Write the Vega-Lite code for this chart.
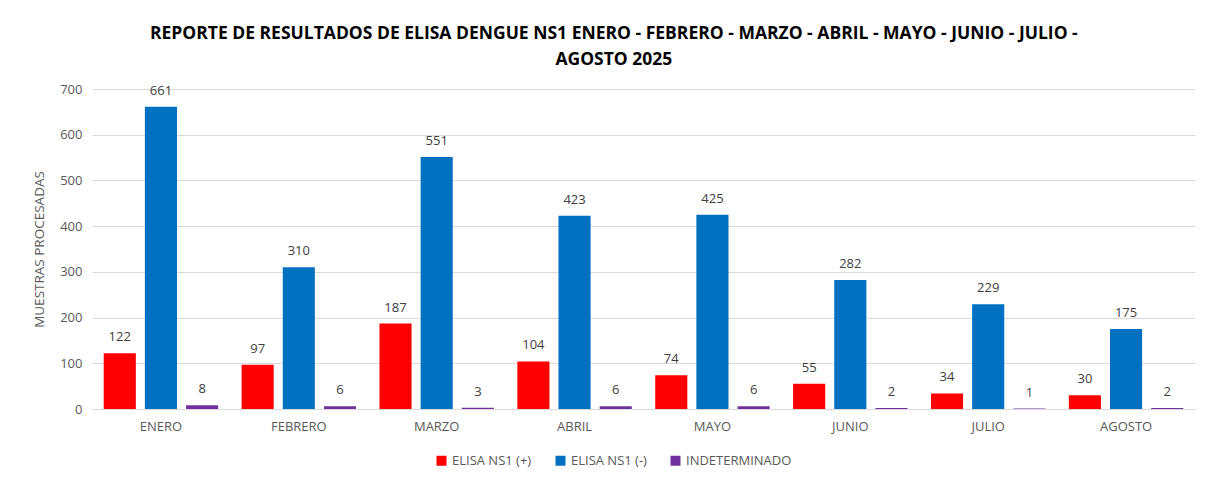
{
  "$schema": "https://vega.github.io/schema/vega-lite/v6.json",
  "width": 1103,
  "height": 320,
  "autosize": {"type": "none"},
  "padding": {"left": 92, "top": 89, "right": 14, "bottom": 74},
  "background": "white",
  "title": {
    "text": ["REPORTE DE RESULTADOS DE  ELISA DENGUE NS1 ENERO - FEBRERO - MARZO - ABRIL - MAYO - JUNIO - JULIO -", "AGOSTO 2025"],
    "font": "Open Sans",
    "fontSize": 17.5,
    "fontWeight": "bold",
    "color": "#000000",
    "anchor": "middle",
    "frame": "bounds",
    "lineHeight": 26,
    "offset": 15
  },
  "data": {
    "values": [
      {"mes": "ENERO", "serie": "ELISA NS1 (+)", "valor": 122},
      {"mes": "ENERO", "serie": "ELISA NS1 (-)", "valor": 661},
      {"mes": "ENERO", "serie": "INDETERMINADO", "valor": 8},
      {"mes": "FEBRERO", "serie": "ELISA NS1 (+)", "valor": 97},
      {"mes": "FEBRERO", "serie": "ELISA NS1 (-)", "valor": 310},
      {"mes": "FEBRERO", "serie": "INDETERMINADO", "valor": 6},
      {"mes": "MARZO", "serie": "ELISA NS1 (+)", "valor": 187},
      {"mes": "MARZO", "serie": "ELISA NS1 (-)", "valor": 551},
      {"mes": "MARZO", "serie": "INDETERMINADO", "valor": 3},
      {"mes": "ABRIL", "serie": "ELISA NS1 (+)", "valor": 104},
      {"mes": "ABRIL", "serie": "ELISA NS1 (-)", "valor": 423},
      {"mes": "ABRIL", "serie": "INDETERMINADO", "valor": 6},
      {"mes": "MAYO", "serie": "ELISA NS1 (+)", "valor": 74},
      {"mes": "MAYO", "serie": "ELISA NS1 (-)", "valor": 425},
      {"mes": "MAYO", "serie": "INDETERMINADO", "valor": 6},
      {"mes": "JUNIO", "serie": "ELISA NS1 (+)", "valor": 55},
      {"mes": "JUNIO", "serie": "ELISA NS1 (-)", "valor": 282},
      {"mes": "JUNIO", "serie": "INDETERMINADO", "valor": 2},
      {"mes": "JULIO", "serie": "ELISA NS1 (+)", "valor": 34},
      {"mes": "JULIO", "serie": "ELISA NS1 (-)", "valor": 229},
      {"mes": "JULIO", "serie": "INDETERMINADO", "valor": 1},
      {"mes": "AGOSTO", "serie": "ELISA NS1 (+)", "valor": 30},
      {"mes": "AGOSTO", "serie": "ELISA NS1 (-)", "valor": 175},
      {"mes": "AGOSTO", "serie": "INDETERMINADO", "valor": 2}
    ]
  },
  "encoding": {
    "x": {
      "field": "mes",
      "type": "nominal",
      "sort": null,
      "scale": {"paddingInner": 0.17, "paddingOuter": 0.085},
      "axis": {
        "title": null,
        "labelAngle": 0,
        "labelFont": "Open Sans",
        "labelFontSize": 13,
        "labelColor": "#595959",
        "labelPadding": 11,
        "ticks": false,
        "domainColor": "#d9d9d9",
        "domainWidth": 1
      }
    },
    "xOffset": {
      "field": "serie",
      "type": "nominal",
      "sort": ["ELISA NS1 (+)", "ELISA NS1 (-)", "INDETERMINADO"],
      "scale": {"paddingInner": 0.22}
    },
    "y": {
      "field": "valor",
      "type": "quantitative",
      "scale": {"domain": [0, 700]},
      "axis": {
        "title": "MUESTRAS PROCESADAS",
        "titleFont": "Open Sans",
        "titleFontSize": 13.5,
        "titleFontWeight": "normal",
        "titleColor": "#595959",
        "titlePadding": 13,
        "labelFont": "Open Sans",
        "labelFontSize": 13,
        "labelColor": "#595959",
        "labelPadding": 10,
        "values": [0, 100, 200, 300, 400, 500, 600, 700],
        "ticks": false,
        "domain": false,
        "gridColor": "#d9d9d9",
        "gridWidth": 1
      }
    }
  },
  "layer": [
    {
      "mark": {"type": "bar"},
      "encoding": {
        "color": {
          "field": "serie",
          "type": "nominal",
          "sort": ["ELISA NS1 (+)", "ELISA NS1 (-)", "INDETERMINADO"],
          "scale": {
            "domain": ["ELISA NS1 (+)", "ELISA NS1 (-)", "INDETERMINADO"],
            "range": ["#FF0000", "#0070C0", "#7030A0"]
          },
          "legend": {
            "title": null,
            "orient": "none",
            "legendX": 343,
            "legendY": 365,
            "direction": "horizontal",
            "symbolType": "square",
            "symbolSize": 100,
            "symbolStrokeWidth": 0,
            "labelFont": "Open Sans",
            "labelFontSize": 13,
            "labelColor": "#595959",
            "columnPadding": 22
          }
        }
      }
    },
    {
      "mark": {"type": "text", "baseline": "bottom", "dy": -9, "font": "Open Sans", "fontSize": 13, "color": "#404040"},
      "encoding": {
        "text": {"field": "valor", "type": "quantitative"}
      }
    }
  ],
  "config": {
    "view": {"stroke": null}
  }
}
